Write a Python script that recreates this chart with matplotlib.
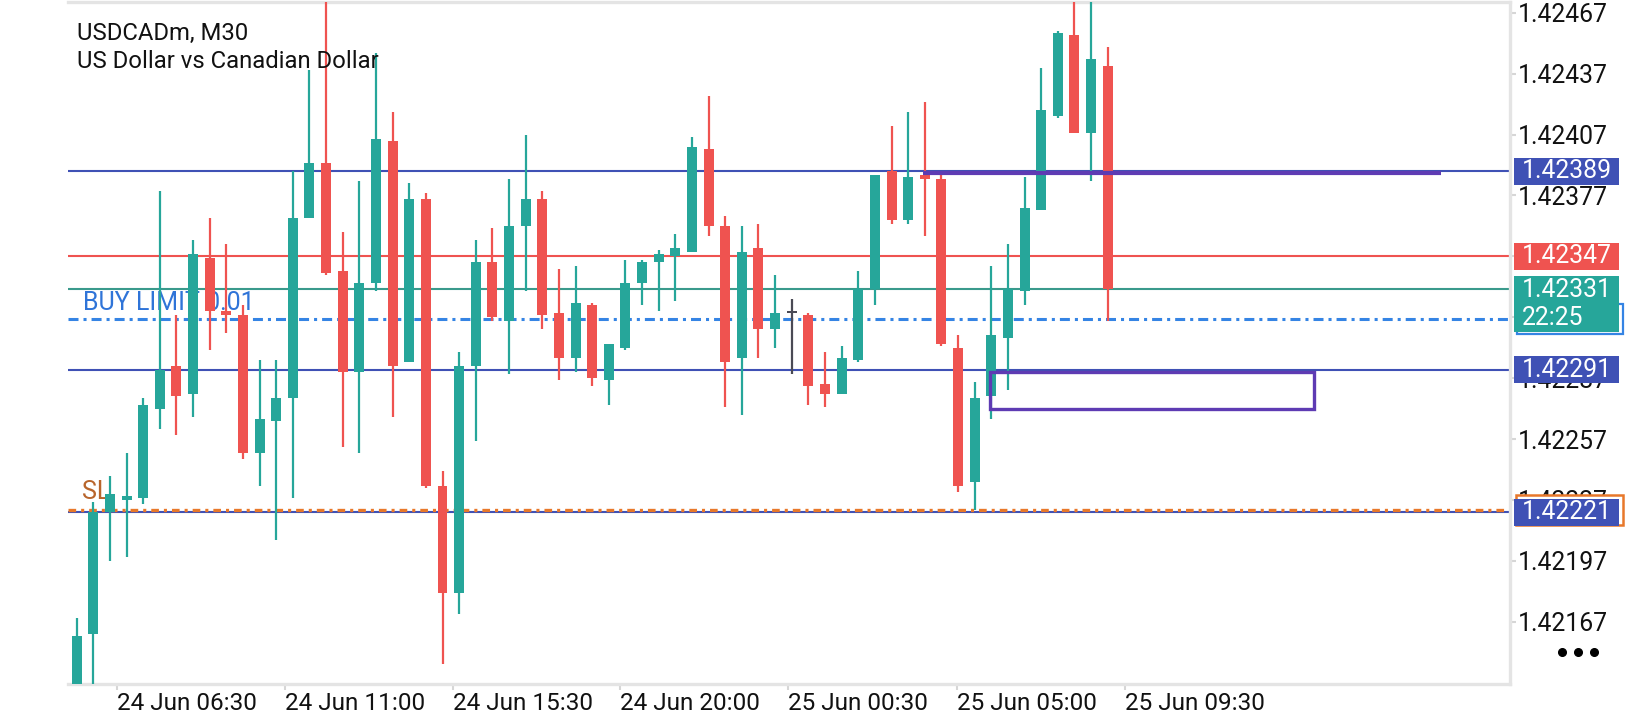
import matplotlib
matplotlib.use("Agg")
import matplotlib.pyplot as plt
from matplotlib.patches import Rectangle
from matplotlib.lines import Line2D
from matplotlib.transforms import blended_transform_factory
import numpy as np

plt.rcParams['font.family'] = ['Roboto', 'DejaVu Sans']
plt.rcParams['lines.scale_dashes'] = False

# USDCADm M30 candles
opens = [1.42128, 1.42161, 1.42221, 1.42227, 1.42228, 1.42272, 1.42293, 1.42279, 1.42346, 1.42320,
         1.42318, 1.42250, 1.42266, 1.42277, 1.42366, 1.42393, 1.42340, 1.42290, 1.42334, 1.42404,
         1.42295, 1.42375, 1.42234, 1.42181, 1.42293, 1.42344, 1.42315, 1.42362, 1.42375, 1.42319,
         1.42297, 1.42323, 1.42286, 1.42302, 1.42334, 1.42344, 1.42347, 1.42349, 1.42400, 1.42362,
         1.42297, 1.42351, 1.42311, 1.42319, 1.42318, 1.42284, 1.42279, 1.42296, 1.42331, 1.42389,
         1.42365, 1.42387, 1.42385, 1.42302, 1.42236, 1.42278, 1.42307, 1.42330, 1.42370, 1.42416,
         1.42456, 1.42408, 1.42441]
highs = [1.42169, 1.42226, 1.42239, 1.42250, 1.42277, 1.42379, 1.42318, 1.42355, 1.42366, 1.42353,
         1.42323, 1.42296, 1.42296, 1.42389, 1.42439, 1.42476, 1.42359, 1.42384, 1.42447, 1.42418,
         1.42383, 1.42378, 1.42241, 1.42300, 1.42355, 1.42361, 1.42385, 1.42407, 1.42379, 1.42341,
         1.42342, 1.42324, 1.42304, 1.42345, 1.42345, 1.42350, 1.42358, 1.42406, 1.42426, 1.42367,
         1.42362, 1.42363, 1.42338, 1.42326, 1.42319, 1.42300, 1.42303, 1.42340, 1.42387, 1.42411,
         1.42418, 1.42423, 1.42387, 1.42308, 1.42285, 1.42342, 1.42353, 1.42386, 1.42440, 1.42458,
         1.42476, 1.42476, 1.42450]
lows = [1.42120, 1.42130, 1.42197, 1.42199, 1.42225, 1.42262, 1.42259, 1.42268, 1.42301, 1.42309,
        1.42247, 1.42234, 1.42207, 1.42228, 1.42366, 1.42338, 1.42253, 1.42250, 1.42330, 1.42268,
        1.42295, 1.42233, 1.42146, 1.42171, 1.42256, 1.42315, 1.42289, 1.42330, 1.42311, 1.42286,
        1.42290, 1.42283, 1.42274, 1.42301, 1.42323, 1.42320, 1.42325, 1.42349, 1.42357, 1.42273,
        1.42269, 1.42297, 1.42302, 1.42289, 1.42274, 1.42273, 1.42279, 1.42295, 1.42323, 1.42363,
        1.42363, 1.42357, 1.42303, 1.42231, 1.42222, 1.42267, 1.42281, 1.42323, 1.42370, 1.42415,
        1.42408, 1.42384, 1.42315]
closes = [1.42160, 1.42221, 1.42230, 1.42229, 1.42274, 1.42291, 1.42278, 1.42348, 1.42320, 1.42318,
          1.42250, 1.42267, 1.42277, 1.42366, 1.42393, 1.42339, 1.42290, 1.42334, 1.42405, 1.42293,
          1.42375, 1.42234, 1.42181, 1.42293, 1.42344, 1.42317, 1.42362, 1.42375, 1.42318, 1.42297,
          1.42324, 1.42287, 1.42304, 1.42334, 1.42344, 1.42348, 1.42351, 1.42401, 1.42362, 1.42295,
          1.42349, 1.42311, 1.42319, 1.42319, 1.42283, 1.42279, 1.42297, 1.42331, 1.42387, 1.42365,
          1.42386, 1.42385, 1.42304, 1.42234, 1.42277, 1.42308, 1.42331, 1.42371, 1.42419, 1.42457,
          1.42408, 1.42444, 1.42331]

time_labels = ['24 Jun 06:30', '24 Jun 11:00', '24 Jun 15:30', '24 Jun 20:00',
               '25 Jun 00:30', '25 Jun 05:00', '25 Jun 09:30']
time_ticks = [2.41, 12.50, 22.62, 32.69, 42.80, 52.92, 63.03]
price_ticks = [1.42167, 1.42197, 1.42227, 1.42257, 1.42287, 1.42317, 1.42347, 1.42377,
               1.42407, 1.42437, 1.42467]

level_blue = [1.42389, 1.42291, 1.42221]
ask_price = 1.42347
bid_price = 1.42331
bid_time = '22:25'
buy_limit = 1.42316
sl_price = 1.42222
zone_line = (50.87, 82.02, 1.42388)          # start bar, end bar, price
zone_box = (54.95, 74.42, 1.42272, 1.42290)   # left bar, right bar, bottom, top

GREEN = '#26a69a'
RED = '#ef5350'
BLUE = '#3f51b5'
PURPLE = '#5e3bb3'
LIMIT = '#3584e4'
ORANGE = '#e8782a'
GRID = '#e4e4e4'

W, H = 1640, 720
fig = plt.figure(figsize=(W / 100, H / 100), dpi=100)
ax = fig.add_axes([68 / W, 1 - 684 / H, (1510 - 68) / W, (684 - 2) / H])
ymin, ymax = 1.421363, 1.424723
ax.set_xlim(-0.52, 86.19)
ax.set_ylim(ymin, ymax)


def px2y(h):
    return h * (ymax - ymin) / 682.0


# level lines
for lv in level_blue:
    ax.axhline(lv, color=BLUE, lw=1.5, zorder=1)
ax.axhline(ask_price, color=RED, lw=1.5, zorder=1)
ax.axhline(bid_price, color='#3a9a8c', lw=1.5, zorder=1)
ax.axhline(buy_limit, color=LIMIT, lw=2.2, dashes=(7.2, 3.6, 2.2, 3.6), zorder=1)
ax.axhline(sl_price, color=ORANGE, lw=2.4, dashes=(5.5, 3.6, 2.2, 3.6), zorder=1)

# texts under the candles
fig.text(76.7 / W, 1 - 33 / H, 'USDCADm, M30', fontsize=17.2, va='center', color='#111111',
         zorder=0)
fig.text(76.7 / W, 1 - 61 / H, 'US Dollar vs Canadian Dollar', fontsize=17.2, va='center',
         color='#111111', zorder=0)
ax.text(0.38, buy_limit + px2y(16), 'BUY LIMIT 0.01', fontsize=18, color='#2f74d8',
        va='center', ha='left', zorder=0.5)
ax.text(0.3, sl_price + px2y(18), 'SL', fontsize=18, color='#b8652c', va='center',
        ha='left', zorder=0.5)

# candles
o = np.array(opens)
h = np.array(highs)
l = np.array(lows)
c = np.array(closes)
x = np.arange(len(o))
cols = np.where(c > o, GREEN, np.where(c < o, RED, '#4a4a55'))
ax.vlines(x, l, h, colors=cols, lw=1.6, zorder=3)
body = np.maximum(np.abs(c - o), px2y(2))
ax.bar(x, body, bottom=np.minimum(o, c), width=0.6, color=cols, zorder=3, linewidth=0)

# purple drawings
ax.plot([zone_line[0], zone_line[1]], [zone_line[2], zone_line[2]], color=PURPLE, lw=3,
        zorder=4, solid_capstyle='butt')
ax.add_patch(Rectangle((zone_box[0], zone_box[2]), zone_box[1] - zone_box[0],
                       zone_box[3] - zone_box[2], fill=False, edgecolor=PURPLE, lw=2.4,
                       zorder=4))

# axes look
ax.spines['left'].set_visible(False)
for s in ['top', 'right', 'bottom']:
    ax.spines[s].set_color(GRID)
    ax.spines[s].set_linewidth(2.4)
ax.yaxis.tick_right()
ax.set_yticks(price_ticks)
ax.set_yticklabels([f'{p:.5f}' for p in price_ticks])
ax.tick_params(axis='y', length=4.5, width=1.5, color='#d6d6d6', pad=1, labelsize=17.8,
               labelcolor='#111111')
ax.set_xticks(time_ticks)
ax.set_xticklabels(time_labels)
ax.tick_params(axis='x', length=4, width=1.5, color='#d6d6d6', pad=1.5, labelsize=17.5,
               labelcolor='#111111')
for lab in ax.get_xticklabels():
    lab.set_horizontalalignment('left')

# price label boxes on the right
tr = blended_transform_factory(fig.transFigure, ax.transData)
bx0, bx1 = 1514 / W, 1619 / W


def price_box(y_bottom, hpx, color):
    ax.add_patch(Rectangle((bx0, y_bottom), bx1 - bx0, px2y(hpx), transform=tr,
                           facecolor=color, edgecolor='none', clip_on=False, zorder=6))


def box_text(y, s):
    ax.text(1522 / W, y, s, transform=tr, color='white', fontsize=17.8, va='center',
            ha='left', clip_on=False, zorder=7)


# outlined order boxes (behind)
ax.add_patch(Rectangle((1517 / W, buy_limit - px2y(15)), 106 / W, px2y(30), transform=tr,
                       facecolor='white', edgecolor=LIMIT, lw=1.6, clip_on=False, zorder=5))
ax.add_patch(Rectangle((1516 / W, sl_price - px2y(15)), 107 / W, px2y(30), transform=tr,
                       facecolor='white', edgecolor=ORANGE, lw=1.8, clip_on=False, zorder=5))

for lv in level_blue:
    price_box(lv - px2y(13.5), 27, BLUE)
    box_text(lv, f'{lv:.5f}')
price_box(ask_price - px2y(13.5), 27, RED)
box_text(ask_price, f'{ask_price:.5f}')
price_box(bid_price - px2y(43.5), 56, GREEN)
box_text(bid_price - px2y(1.5), f'{bid_price:.5f}')
box_text(bid_price - px2y(29.5), bid_time)

# menu dots
fig.add_artist(Line2D([1562 / W, 1578 / W, 1594 / W], [1 - 652 / H] * 3, ls='', marker='o',
                      markersize=5.5, color='black', transform=fig.transFigure))

fig.savefig('out.png', dpi=100, facecolor='white')
